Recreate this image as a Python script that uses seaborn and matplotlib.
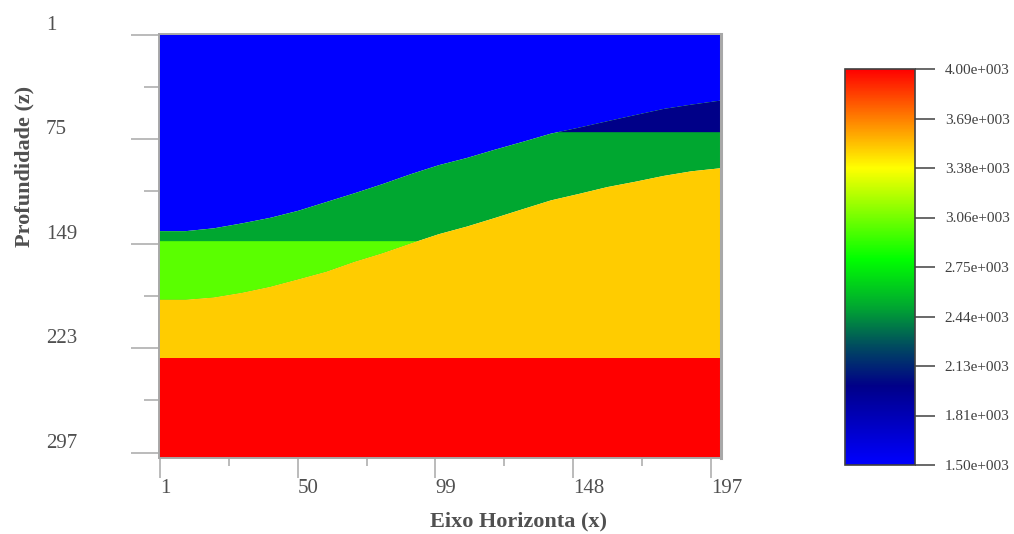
import numpy as np
import matplotlib
matplotlib.use("Agg")
import matplotlib.pyplot as plt
import seaborn as sns
from matplotlib.colors import LinearSegmentedColormap, Normalize
from matplotlib.cm import ScalarMappable

# ---------------------------------------------------------------------------
# Velocity model: layer velocities (m/s) and interface depths (grid samples)
# ---------------------------------------------------------------------------
layer_velocity = [1500, 2000, 2500, 3000, 3500, 4000]

# horizontal positions where the dipping interfaces were picked
x_knots = [0.5, 10, 20, 30, 40, 50, 60, 70, 80, 90, 100,
           110, 120, 130, 140, 150, 160, 170, 180, 190, 200.5]
# top of the sediment package (base of the 1500 layer)
top_interface = [139.8, 139.8, 137.8, 134.3, 130.4, 125.4, 119.2, 113.0, 106.5, 99.5, 93.1,
                 88.0, 82.1, 76.5, 70.7, 66.5, 62.0, 57.6, 53.3, 50.2, 47.3]
# top of the 3500 layer
base_interface = [188.4, 188.4, 186.8, 183.5, 179.3, 174.0, 168.6, 161.6, 155.5, 148.6, 142.0,
                  136.6, 130.5, 124.2, 118.0, 113.4, 108.6, 104.8, 100.7, 97.4, 95.2]

# flat interfaces
depth_2000_base = 69.7
depth_3000_top = 146.9
depth_4000_top = 230.2

x_limits = (0.5, 200.5)
z_limits = (0.5, 300.5)

x_major_ticks = [1, 50, 99, 148, 197]
x_minor_ticks = [25.5, 74.5, 123.5, 172.5]
z_major_ticks = [1, 75, 149, 223, 297]
z_minor_ticks = [38, 112, 186, 260]

cbar_ticks = [1500, 1812.5, 2125, 2437.5, 2750, 3062.5, 3375, 3687.5, 4000]
cbar_labels = ["1.50e+003", "1.81e+003", "2.13e+003", "2.44e+003", "2.75e+003",
               "3.06e+003", "3.38e+003", "3.69e+003", "4.00e+003"]

# colour scale anchors (velocity, rgb)
cmap_velocity = [1500, 2000, 2250, 2500, 2800, 3375, 4000]
cmap_rgb = [(0, 0, 255), (0, 0, 136), (0, 75, 95), (0, 168, 48),
            (0, 255, 0), (255, 255, 0), (255, 0, 0)]

# ---------------------------------------------------------------------------
sns.set_theme(style="ticks")
plt.rcParams["font.family"] = ["Liberation Serif", "DejaVu Serif"]

vmin, vmax = cmap_velocity[0], cmap_velocity[-1]
norm = Normalize(vmin=vmin, vmax=vmax)
cmap = LinearSegmentedColormap.from_list(
    "velocity",
    [((v - vmin) / (vmax - vmin), tuple(c / 255 for c in rgb))
     for v, rgb in zip(cmap_velocity, cmap_rgb)],
    N=512,
)
colors = [cmap(norm(v)) for v in layer_velocity]

W, H = 1014, 534
fig = plt.figure(figsize=(W / 100, H / 100), dpi=100)
fig.patch.set_facecolor("white")

ax = fig.add_axes([158.6 / W, 1 - 457.5 / H, 562 / W, 423.5 / H])

x = np.asarray(x_knots)
top = np.asarray(top_interface)
base = np.asarray(base_interface)
fill_kw = dict(linewidth=0, antialiased=False)

# layers from shallow to deep
ax.fill_between(x, z_limits[0], top, color=colors[0], **fill_kw)
ax.fill_between(x, top, base, color=colors[2], **fill_kw)
ax.fill_between(x, top, depth_2000_base, where=top < depth_2000_base,
                interpolate=True, color=colors[1], **fill_kw)
ax.fill_between(x, depth_3000_top, base, where=base > depth_3000_top,
                interpolate=True, color=colors[3], **fill_kw)
ax.fill_between(x, base, depth_4000_top, color=colors[4], **fill_kw)
ax.fill_between(x, depth_4000_top, z_limits[1], color=colors[5], **fill_kw)

ax.set_xlim(*x_limits)
ax.set_ylim(z_limits[1], z_limits[0])

tick_grey = "#a8a8a8"
label_grey = "#505050"

ax.set_xticks(x_major_ticks, [str(t) for t in x_major_ticks], ha="left")
ax.set_xticks(x_minor_ticks, minor=True)
ax.set_yticks(z_major_ticks, [str(t) for t in z_major_ticks], ha="left", va="bottom")
ax.set_yticks(z_minor_ticks, minor=True)

ax.tick_params(axis="x", which="major", length=14.4, width=1.1, color=tick_grey,
               pad=1, labelsize=15, labelcolor=label_grey)
ax.tick_params(axis="x", which="minor", length=5.8, width=1.1, color=tick_grey)
ax.tick_params(axis="y", which="major", length=20, width=1.1, color=tick_grey,
               pad=61, labelsize=15, labelcolor=label_grey)
ax.tick_params(axis="y", which="minor", length=10.8, width=1.1, color=tick_grey)

for side, spine in ax.spines.items():
    spine.set_color(tick_grey)
    spine.set_linewidth(2.2 if side == "right" else 1.4)

fig.text(518 / W, 1 - 521 / H, "Eixo Horizonta (x)", ha="center", va="center",
         fontsize=16, fontweight="bold", color=label_grey)
fig.text(24 / W, 1 - 166.5 / H, "Profundidade (z)", rotation=90, ha="center",
         va="center", fontsize=16, fontweight="bold", color=label_grey)

# colour bar
cax = fig.add_axes([845 / W, 1 - 465 / H, 70 / W, 396 / H])
cb = fig.colorbar(ScalarMappable(norm=norm, cmap=cmap), cax=cax)
cb.set_ticks(cbar_ticks, labels=cbar_labels)
cax.tick_params(length=14.4, width=1.1, color="#404040", pad=7,
                labelsize=11, labelcolor="#404040")
cb.outline.set_edgecolor("#404040")
cb.outline.set_linewidth(1.2)
cax.minorticks_off()

fig.savefig("out.png", dpi=100)
